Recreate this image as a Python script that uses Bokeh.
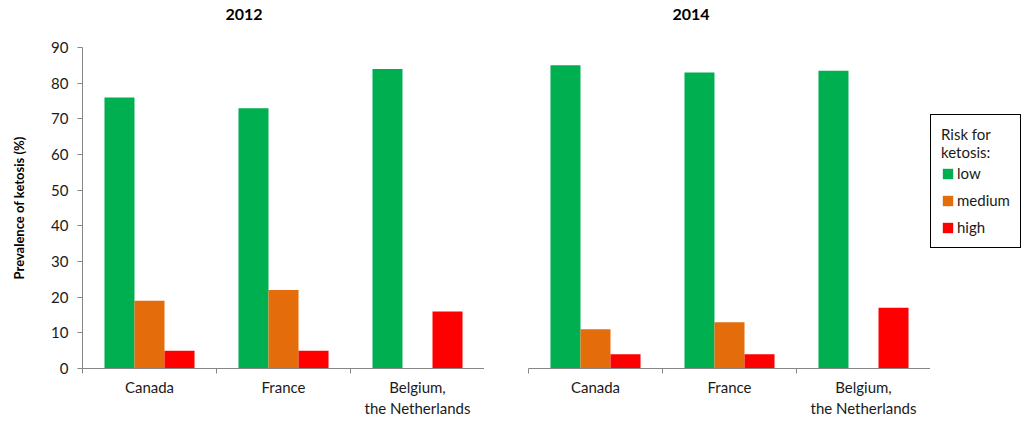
from bokeh.plotting import figure
from bokeh.models import (Range1d, FixedTicker, Legend, LegendItem, ColumnDataSource)
from bokeh.transform import dodge
from bokeh.layouts import row
from bokeh.embed import file_html
from bokeh.resources import INLINE

# ---- data ----
countries = ["Canada", "France", "Belgium,\nthe Netherlands"]
years = ["2012", "2014"]
risk_levels = ["low", "medium", "high"]
low_2012 = [76, 73, 84]
medium_2012 = [19, 22, 0]
high_2012 = [5, 5, 16]
low_2014 = [85, 83, 83.5]
medium_2014 = [11, 13, 0]
high_2014 = [4, 4, 17]
y_ticks = [0, 10, 20, 30, 40, 50, 60, 70, 80, 90]
legend_title = "Risk for\nketosis:"

colors = ["#00B050", "#E46C0A", "#FF0000"]
FONT = "Lato"
TEXT = "#1a1a1a"
AXIS = "#868686"
BAR_W = 0.224
H = 420

# category slots: centre of each category on a 0..n axis
centres = [i + 0.5 for i in range(len(countries))]
bounds = list(range(len(countries) + 1))


def make_panel(title, lows, meds, highs, show_y, width, b_left, b_right, title_offset):
    p = figure(x_range=Range1d(0, len(countries)), y_range=Range1d(0, 90),
               width=width, height=H, output_backend="svg", toolbar_location=None,
               y_axis_location="left" if show_y else None,
               min_border_left=b_left, min_border_right=b_right,
               min_border_top=47, min_border_bottom=H - 368,
               outline_line_color=None, background_fill_color="white",
               border_fill_color="white")
    p.grid.visible = False

    p.title.text = title + "\n"
    p.title.text_font = FONT
    p.title.text_font_size = "16px"
    p.title.text_font_style = "bold"
    p.title.text_color = "#000000"
    p.title.align = "left"
    p.title.offset = title_offset
    p.title.vertical_align = "top"
    p.title.standoff = 7

    xa = p.xaxis[0]
    xa.ticker = FixedTicker(ticks=centres, minor_ticks=bounds)
    xa.major_label_overrides = {c: name for c, name in zip(centres, countries)}
    xa.major_tick_line_color = None
    xa.major_tick_out = 5
    xa.major_tick_in = 0
    xa.minor_tick_line_color = AXIS
    xa.minor_tick_out = 5
    xa.minor_tick_in = 0
    xa.axis_line_color = AXIS
    xa.major_label_text_font = FONT
    xa.major_label_text_font_size = "15px"
    xa.major_label_text_color = TEXT
    xa.major_label_standoff = 4

    if show_y:
        ya = p.yaxis[0]
        ya.ticker = FixedTicker(ticks=y_ticks)
        ya.axis_line_color = AXIS
        ya.major_tick_line_color = AXIS
        ya.major_tick_out = 5
        ya.major_tick_in = 0
        ya.minor_tick_line_color = None
        ya.major_label_text_font = FONT
        ya.major_label_text_font_size = "15px"
        ya.major_label_text_color = TEXT
        ya.major_label_standoff = 9
        ya.axis_label = "Prevalence of ketosis (%)"
        ya.axis_label_text_font = FONT
        ya.axis_label_text_font_size = "13px"
        ya.axis_label_text_font_style = "bold"
        ya.axis_label_text_color = "#000000"
        ya.axis_label_standoff = 21

    src = ColumnDataSource(dict(pos=centres, country=countries, low=lows, medium=meds, high=highs))
    for i, (lvl, col) in enumerate(zip(risk_levels, colors)):
        p.vbar(x=dodge("pos", (i - 1) * BAR_W), top=lvl,
               width=BAR_W, source=src, fill_color=col, line_color=None)
    return p


p1 = make_panel(years[0], low_2012, medium_2012, high_2012, True, 484, 82, 0, 143)
p2 = make_panel(years[1], low_2014, medium_2014, high_2014, False, 446, 44, 0, 144)

# legend panel (key swatches come from zero-height proxy bars)
p3 = figure(x_range=Range1d(0, 1), y_range=Range1d(0, 1), width=94, height=H,
            output_backend="svg", toolbar_location=None,
            x_axis_location=None, y_axis_location=None,
            min_border=0, min_border_left=0, min_border_right=0,
            min_border_top=0, min_border_bottom=0,
            outline_line_color=None, border_fill_color="white")
p3.grid.visible = False
keys = []
for lvl, col in zip(risk_levels, colors):
    r = p3.vbar(x=[0.5], top=[0], bottom=[0], width=0.0, fill_color=col, line_color=None)
    keys.append(LegendItem(label=lvl, renderers=[r]))

legend = Legend(items=keys,
                location=(0, 120),
                title=legend_title,
                title_text_font=FONT, title_text_font_size="15px",
                title_text_font_style="normal", title_text_color=TEXT,
                title_standoff=2,
                label_text_font=FONT, label_text_font_size="15px", label_text_color=TEXT,
                glyph_width=13, glyph_height=13, label_height=20, label_standoff=3,
                spacing=7, padding=10, margin=0,
                border_line_color="#000000", border_line_width=1.5, border_line_alpha=1.0,
                background_fill_color="white", background_fill_alpha=1.0)
p3.add_layout(legend, "center")

layout = row(p1, p2, p3, spacing=0)

with open("out.html", "w") as f:
    f.write(file_html(layout, INLINE))
